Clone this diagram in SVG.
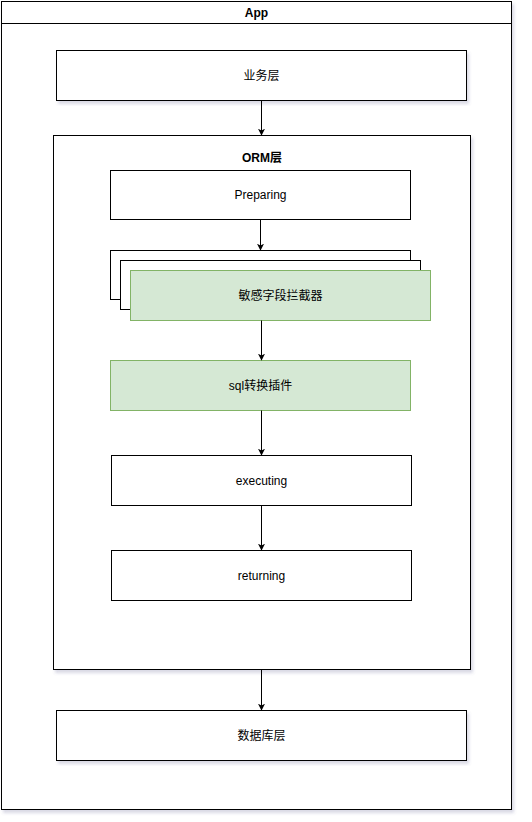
<svg xmlns="http://www.w3.org/2000/svg" width="532" height="822" viewBox="0 0 532 822">
<defs>
<filter id="sh" x="-5%" y="-5%" width="115%" height="115%">
<feDropShadow dx="2" dy="3" stdDeviation="1.5" flood-color="#666699" flood-opacity="0.25"/>
</filter>
<marker id="arr" viewBox="0 0 10 10" refX="9" refY="5" markerWidth="7" markerHeight="7" markerUnits="userSpaceOnUse" orient="auto">
<path d="M0,0 L10,5 L0,10 L2.5,5 z" fill="#000"/>
</marker>
<style>
.box{fill:#fff;stroke:#000;stroke-width:1}
.green{fill:#d5e8d4;stroke:#82b366;stroke-width:1}
.t{font-family:"Liberation Sans","Noto Sans CJK SC",sans-serif;font-size:12px;fill:#000;text-anchor:middle;dominant-baseline:central}
.b{font-weight:bold}
.edge{stroke:#000;stroke-width:1;fill:none;marker-end:url(#arr)}
</style>
</defs>
<rect width="532" height="822" fill="#fff"/>
<g id="app">
<rect class="box" x="1.5" y="1.5" width="510" height="808" filter="url(#sh)"/>
<line x1="1.5" y1="23.5" x2="511.5" y2="23.5" stroke="#000"/>
<text class="t b" x="256.5" y="13">App</text>
</g>
<g id="biz">
<rect class="box" x="56.5" y="50.5" width="410" height="50" filter="url(#sh)"/>
<text class="t" x="261.5" y="75.5">业务层</text>
</g>
<g id="orm">
<rect class="box" x="53.5" y="135.5" width="417" height="534" filter="url(#sh)"/>
<text class="t b" x="262" y="158">ORM层</text>
</g>
<g id="preparing">
<rect class="box" x="110.5" y="170.5" width="300" height="49"/>
<text class="t" x="260.5" y="195">Preparing</text>
</g>
<g id="interceptor">
<rect class="box" x="110.5" y="250.5" width="300" height="49"/>
<rect class="box" x="120.5" y="260.5" width="300" height="49"/>
<rect class="green" x="130.5" y="270.5" width="300" height="50"/>
<text class="t" x="280.5" y="295.5">敏感字段拦截器</text>
</g>
<g id="sqlplugin">
<rect class="green" x="110.5" y="360.5" width="300" height="50"/>
<text class="t" x="260.5" y="385.5">sql转换插件</text>
</g>
<g id="executing">
<rect class="box" x="111.5" y="455.5" width="300" height="50"/>
<text class="t" x="261.5" y="480.5">executing</text>
</g>
<g id="returning">
<rect class="box" x="111.5" y="550.5" width="300" height="50"/>
<text class="t" x="261.5" y="575.5">returning</text>
</g>
<g id="db">
<rect class="box" x="56.5" y="710.5" width="410" height="50" filter="url(#sh)"/>
<text class="t" x="261.5" y="735.5">数据库层</text>
</g>
<g id="connectors">
<path class="edge" d="M261.5,100.5 L261.5,135"/>
<path class="edge" d="M260.5,219.5 L260.5,250"/>
<path class="edge" d="M261.5,320.5 L261.5,360"/>
<path class="edge" d="M261.5,410.5 L261.5,455"/>
<path class="edge" d="M261.5,505.5 L261.5,550"/>
<path class="edge" d="M261.5,669.5 L261.5,710"/>
</g>
</svg>
